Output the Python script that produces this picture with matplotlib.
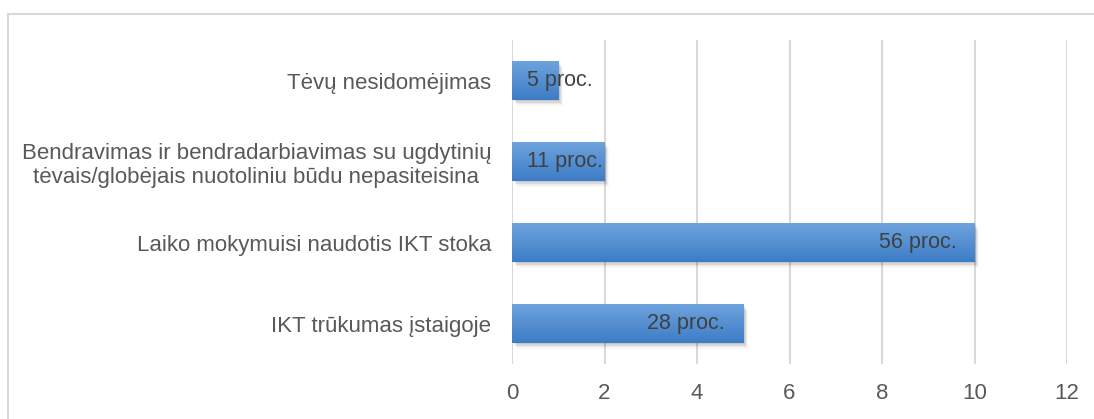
import matplotlib.pyplot as plt
import numpy as np
from matplotlib.patches import Rectangle
from matplotlib.colors import LinearSegmentedColormap

categories = [
    "IKT trūkumas įstaigoje",
    "Laiko mokymuisi naudotis IKT stoka",
    "Bendravimas ir bendradarbiavimas su ugdytinių\ntėvais/globėjais nuotoliniu būdu nepasiteisina",
    "Tėvų nesidomėjimas",
]
values = [5, 10, 2, 1]
labels = ["28 proc.", "56 proc.", "11 proc.", "5 proc."]
xticks = [0, 2, 4, 6, 8, 10, 12]

plt.rcParams["font.family"] = ["Liberation Sans", "DejaVu Sans"]

fig = plt.figure(figsize=(10.94, 4.19), dpi=100)
ax = fig.add_axes([512 / 1094, 1 - 364 / 419, (1067 - 512) / 1094, 324 / 419])

# chart border
fig.patches.append(Rectangle((8 / 1094, -0.05), 1.1, 1.05 - 14 / 419,
                             transform=fig.transFigure, fill=False,
                             edgecolor="#d9d9d9", linewidth=1.5))

ypos = np.arange(len(categories))
h = 0.47
grad = np.linspace(0, 1, 64).reshape(-1, 1)
cmap = LinearSegmentedColormap.from_list("bar", ["#3d7cc6", "#6ea3dd"])

for y, v in zip(ypos, values):
    # soft shadow
    for k, a in enumerate([0.09, 0.07, 0.05, 0.03]):
        d = 0.02 + k * 0.02
        ax.add_patch(Rectangle((0.04 + k * 0.02, y - h / 2 - d), v, h, color="black",
                               alpha=a, zorder=2, linewidth=0))
    bar = Rectangle((0, y - h / 2), v, h, facecolor="none", edgecolor="none", zorder=3)
    ax.add_patch(bar)
    im = ax.imshow(grad, cmap=cmap, aspect="auto", origin="lower",
                   extent=[0, v, y - h / 2, y + h / 2], zorder=3)
    im.set_clip_path(bar)

for y, v, lab in zip(ypos, values, labels):
    if v < 3:
        ax.annotate(lab, (0, y), xytext=(11, 0), textcoords="offset points",
                    ha="left", va="center", fontsize=15.5, color="#404040", zorder=5)
    else:
        ax.annotate(lab, (v, y), xytext=(-13, 0), textcoords="offset points",
                    ha="right", va="center", fontsize=15.5, color="#404040", zorder=5)

ax.set_xlim(0, 12)
ax.set_ylim(-0.5, len(categories) - 0.5)
ax.set_xticks(xticks)
ax.set_yticks(ypos)
ax.set_yticklabels(categories, multialignment="center", fontsize=16)
ax.grid(axis="x", color="#d9d9d9", linewidth=1.5, zorder=0)
ax.set_axisbelow(True)
for s in ax.spines.values():
    s.set_visible(False)
ax.tick_params(axis="both", length=0, labelcolor="#595959")
ax.tick_params(axis="x", pad=14, labelsize=16)
ax.tick_params(axis="y", pad=15)

fig.savefig("out.png", dpi=100)
